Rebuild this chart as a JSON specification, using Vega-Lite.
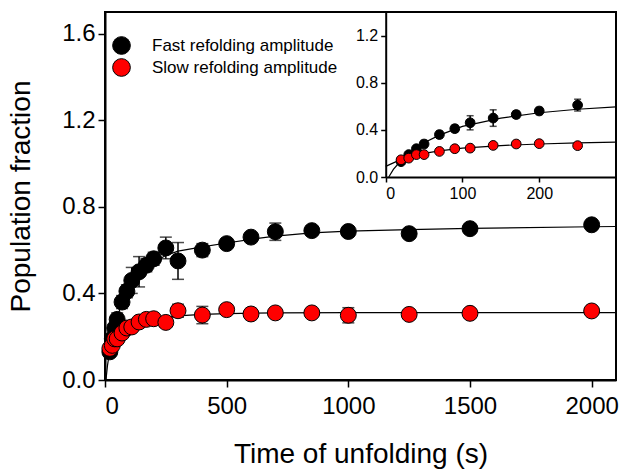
{
  "$schema": "https://vega.github.io/schema/vega-lite/v6.json",
  "width": 511,
  "height": 368,
  "autosize": "none",
  "padding": {"left": 105, "top": 12, "right": 4, "bottom": 92},
  "background": "white",
  "config": {
    "font": "Liberation Sans",
    "view": {"stroke": "black", "strokeWidth": 2},
    "axis": {"domainColor": "black", "domainWidth": 2, "tickColor": "black", "tickWidth": 1.5, "labelColor": "black", "titleColor": "black", "grid": false, "labelFont": "Liberation Sans", "titleFont": "Liberation Sans", "titleFontWeight": "normal"}
  },
  "datasets": {
    "pts": [
      {"series": "Fast refolding amplitude", "t": 20, "y": 0.13, "lo": 0.11, "hi": 0.15},
      {"series": "Fast refolding amplitude", "t": 30, "y": 0.19, "lo": 0.17, "hi": 0.21},
      {"series": "Fast refolding amplitude", "t": 40, "y": 0.24, "lo": 0.22, "hi": 0.26},
      {"series": "Fast refolding amplitude", "t": 50, "y": 0.28, "lo": 0.25, "hi": 0.31},
      {"series": "Fast refolding amplitude", "t": 70, "y": 0.36, "lo": 0.33, "hi": 0.39},
      {"series": "Fast refolding amplitude", "t": 90, "y": 0.41, "lo": 0.38, "hi": 0.44},
      {"series": "Fast refolding amplitude", "t": 110, "y": 0.46, "lo": 0.40, "hi": 0.52},
      {"series": "Fast refolding amplitude", "t": 140, "y": 0.50, "lo": 0.43, "hi": 0.57},
      {"series": "Fast refolding amplitude", "t": 170, "y": 0.53, "lo": 0.50, "hi": 0.56},
      {"series": "Fast refolding amplitude", "t": 200, "y": 0.56, "lo": 0.53, "hi": 0.59},
      {"series": "Fast refolding amplitude", "t": 250, "y": 0.61, "lo": 0.56, "hi": 0.66},
      {"series": "Fast refolding amplitude", "t": 300, "y": 0.55, "lo": 0.465, "hi": 0.635},
      {"series": "Fast refolding amplitude", "t": 400, "y": 0.60, "lo": 0.57, "hi": 0.63},
      {"series": "Fast refolding amplitude", "t": 500, "y": 0.63, "lo": 0.61, "hi": 0.65},
      {"series": "Fast refolding amplitude", "t": 600, "y": 0.66, "lo": 0.64, "hi": 0.68},
      {"series": "Fast refolding amplitude", "t": 700, "y": 0.685, "lo": 0.645, "hi": 0.725},
      {"series": "Fast refolding amplitude", "t": 850, "y": 0.69, "lo": 0.67, "hi": 0.71},
      {"series": "Fast refolding amplitude", "t": 1000, "y": 0.686, "lo": 0.666, "hi": 0.706},
      {"series": "Fast refolding amplitude", "t": 1250, "y": 0.676, "lo": 0.656, "hi": 0.696},
      {"series": "Fast refolding amplitude", "t": 1500, "y": 0.699, "lo": 0.679, "hi": 0.719},
      {"series": "Fast refolding amplitude", "t": 2000, "y": 0.717, "lo": 0.697, "hi": 0.737},
      {"series": "Slow refolding amplitude", "t": 20, "y": 0.146, "lo": 0.136, "hi": 0.156},
      {"series": "Slow refolding amplitude", "t": 30, "y": 0.16, "lo": 0.15, "hi": 0.17},
      {"series": "Slow refolding amplitude", "t": 40, "y": 0.19, "lo": 0.18, "hi": 0.2},
      {"series": "Slow refolding amplitude", "t": 50, "y": 0.19, "lo": 0.18, "hi": 0.2},
      {"series": "Slow refolding amplitude", "t": 70, "y": 0.217, "lo": 0.207, "hi": 0.227},
      {"series": "Slow refolding amplitude", "t": 90, "y": 0.24, "lo": 0.23, "hi": 0.25},
      {"series": "Slow refolding amplitude", "t": 110, "y": 0.245, "lo": 0.235, "hi": 0.255},
      {"series": "Slow refolding amplitude", "t": 140, "y": 0.268, "lo": 0.253, "hi": 0.283},
      {"series": "Slow refolding amplitude", "t": 170, "y": 0.28, "lo": 0.27, "hi": 0.29},
      {"series": "Slow refolding amplitude", "t": 200, "y": 0.283, "lo": 0.273, "hi": 0.293},
      {"series": "Slow refolding amplitude", "t": 250, "y": 0.266, "lo": 0.246, "hi": 0.286},
      {"series": "Slow refolding amplitude", "t": 300, "y": 0.32, "lo": 0.29, "hi": 0.35},
      {"series": "Slow refolding amplitude", "t": 400, "y": 0.30, "lo": 0.26, "hi": 0.34},
      {"series": "Slow refolding amplitude", "t": 500, "y": 0.325, "lo": 0.305, "hi": 0.345},
      {"series": "Slow refolding amplitude", "t": 600, "y": 0.305, "lo": 0.28, "hi": 0.33},
      {"series": "Slow refolding amplitude", "t": 700, "y": 0.31, "lo": 0.295, "hi": 0.325},
      {"series": "Slow refolding amplitude", "t": 850, "y": 0.31, "lo": 0.295, "hi": 0.325},
      {"series": "Slow refolding amplitude", "t": 1000, "y": 0.299, "lo": 0.264, "hi": 0.334},
      {"series": "Slow refolding amplitude", "t": 1250, "y": 0.303, "lo": 0.288, "hi": 0.318},
      {"series": "Slow refolding amplitude", "t": 1500, "y": 0.308, "lo": 0.288, "hi": 0.328},
      {"series": "Slow refolding amplitude", "t": 2000, "y": 0.319, "lo": 0.304, "hi": 0.334}
    ],
    "fit": [
      {"series": "Fast", "t": 4, "y": 0.0},
      {"series": "Fast", "t": 10, "y": 0.065},
      {"series": "Fast", "t": 20, "y": 0.14},
      {"series": "Fast", "t": 30, "y": 0.2},
      {"series": "Fast", "t": 50, "y": 0.29},
      {"series": "Fast", "t": 70, "y": 0.355},
      {"series": "Fast", "t": 100, "y": 0.43},
      {"series": "Fast", "t": 150, "y": 0.5},
      {"series": "Fast", "t": 200, "y": 0.545},
      {"series": "Fast", "t": 250, "y": 0.575},
      {"series": "Fast", "t": 300, "y": 0.595},
      {"series": "Fast", "t": 400, "y": 0.615},
      {"series": "Fast", "t": 500, "y": 0.633},
      {"series": "Fast", "t": 600, "y": 0.65},
      {"series": "Fast", "t": 700, "y": 0.665},
      {"series": "Fast", "t": 850, "y": 0.68},
      {"series": "Fast", "t": 1000, "y": 0.688},
      {"series": "Fast", "t": 1250, "y": 0.695},
      {"series": "Fast", "t": 1500, "y": 0.7},
      {"series": "Fast", "t": 2000, "y": 0.708},
      {"series": "Fast", "t": 2100, "y": 0.709},
      {"series": "Slow", "t": 0, "y": 0.09},
      {"series": "Slow", "t": 10, "y": 0.12},
      {"series": "Slow", "t": 20, "y": 0.148},
      {"series": "Slow", "t": 30, "y": 0.17},
      {"series": "Slow", "t": 50, "y": 0.2},
      {"series": "Slow", "t": 70, "y": 0.222},
      {"series": "Slow", "t": 100, "y": 0.245},
      {"series": "Slow", "t": 150, "y": 0.267},
      {"series": "Slow", "t": 200, "y": 0.28},
      {"series": "Slow", "t": 250, "y": 0.29},
      {"series": "Slow", "t": 300, "y": 0.296},
      {"series": "Slow", "t": 400, "y": 0.303},
      {"series": "Slow", "t": 500, "y": 0.307},
      {"series": "Slow", "t": 700, "y": 0.31},
      {"series": "Slow", "t": 1000, "y": 0.311},
      {"series": "Slow", "t": 2100, "y": 0.311}
    ]
  },
  "layer": [
    {
      "layer": [
        {
          "data": {"name": "fit"},
          "mark": {"type": "line", "color": "black", "strokeWidth": 1.2},
          "encoding": {
            "x": {"field": "t", "type": "quantitative", "scale": {"domain": [0, 2100], "nice": false, "zero": false}, "axis": {"orient": "bottom", "values": [0, 500, 1000, 1500, 2000], "format": "d", "title": "Time of unfolding (s)", "labelFontSize": 24, "titleFontSize": 28, "tickSize": 7, "labelPadding": 7, "titlePadding": 22}},
            "y": {"field": "y", "type": "quantitative", "scale": {"domain": [0, 1.7], "nice": false}, "axis": {"orient": "left", "values": [0, 0.4, 0.8, 1.2, 1.6], "format": ".1f", "title": "Population fraction", "labelFontSize": 24, "titleFontSize": 28, "tickSize": 7, "labelPadding": 3, "titlePadding": 26}},
            "detail": {"field": "series", "type": "nominal"}
          }
        },
        {
          "data": {"name": "pts"},
          "mark": {"type": "errorbar", "ticks": {"size": 12}, "thickness": 1.5, "color": "black"},
          "encoding": {
            "x": {"field": "t", "type": "quantitative", "scale": {"domain": [0, 2100], "nice": false, "zero": false}, "axis": {"orient": "bottom", "values": [0, 500, 1000, 1500, 2000], "format": "d", "title": "Time of unfolding (s)", "labelFontSize": 24, "titleFontSize": 28, "tickSize": 7, "labelPadding": 7, "titlePadding": 22}},
            "y": {"field": "lo", "type": "quantitative", "scale": {"domain": [0, 1.7], "nice": false}, "axis": {"orient": "left", "values": [0, 0.4, 0.8, 1.2, 1.6], "format": ".1f", "title": "Population fraction", "labelFontSize": 24, "titleFontSize": 28, "tickSize": 7, "labelPadding": 3, "titlePadding": 26}},
            "y2": {"field": "hi"}
          }
        },
        {
          "data": {"name": "pts"},
          "mark": {"type": "point", "shape": "circle", "filled": true, "size": 254, "stroke": "black", "strokeWidth": 1, "opacity": 1},
          "encoding": {
            "x": {"field": "t", "type": "quantitative", "scale": {"domain": [0, 2100], "nice": false, "zero": false}, "axis": {"orient": "bottom", "values": [0, 500, 1000, 1500, 2000], "format": "d", "title": "Time of unfolding (s)", "labelFontSize": 24, "titleFontSize": 28, "tickSize": 7, "labelPadding": 7, "titlePadding": 22}},
            "y": {"field": "y", "type": "quantitative", "scale": {"domain": [0, 1.7], "nice": false}, "axis": {"orient": "left", "values": [0, 0.4, 0.8, 1.2, 1.6], "format": ".1f", "title": "Population fraction", "labelFontSize": 24, "titleFontSize": 28, "tickSize": 7, "labelPadding": 3, "titlePadding": 26}},
            "fill": {"field": "series", "type": "nominal", "scale": {"domain": ["Fast refolding amplitude", "Slow refolding amplitude"], "range": ["#000000", "#ff0000"]}, "legend": {"title": null, "orient": "none", "legendX": 7, "legendY": 24, "symbolType": "circle", "symbolSize": 314, "symbolStrokeColor": "black", "symbolStrokeWidth": 1, "symbolOpacity": 1, "labelFontSize": 17, "labelFont": "Liberation Sans", "labelColor": "black", "labelOffset": 21, "labelLimit": 0, "rowPadding": -1, "padding": 0}}
          }
        }
      ]
    },
    {
      "layer": [
        {
          "data": {"name": "fit"},
          "transform": [{"filter": "datum.t <= 300"}],
          "mark": {"type": "line", "color": "black", "strokeWidth": 1.2},
          "encoding": {
            "x": {"field": "t", "type": "quantitative", "scale": {"domain": [0, 300], "range": [280.7, 511], "nice": false, "zero": false}, "axis": {"orient": "bottom", "offset": -203, "values": [0, 100, 200], "title": null, "labelFontSize": 16, "tickSize": 5, "labelPadding": 3}},
            "y": {"field": "y", "type": "quantitative", "scale": {"domain": [0, 1.4], "range": [165, 0], "nice": false}, "axis": {"orient": "left", "offset": -280.7, "values": [0, 0.4, 0.8, 1.2], "format": ".1f", "title": null, "labelFontSize": 16, "tickSize": 5, "labelPadding": 3}},
            "detail": {"field": "series", "type": "nominal"}
          }
        },
        {
          "data": {"name": "pts"},
          "transform": [{"filter": "datum.t <= 260"}],
          "mark": {"type": "errorbar", "ticks": {"size": 7}, "thickness": 1.5, "color": "black"},
          "encoding": {
            "x": {"field": "t", "type": "quantitative", "scale": {"domain": [0, 300], "range": [280.7, 511], "nice": false, "zero": false}, "axis": {"orient": "bottom", "offset": -203, "values": [0, 100, 200], "title": null, "labelFontSize": 16, "tickSize": 5, "labelPadding": 3}},
            "y": {"field": "lo", "type": "quantitative", "scale": {"domain": [0, 1.4], "range": [165, 0], "nice": false}, "axis": {"orient": "left", "offset": -280.7, "values": [0, 0.4, 0.8, 1.2], "format": ".1f", "title": null, "labelFontSize": 16, "tickSize": 5, "labelPadding": 3}},
            "y2": {"field": "hi"}
          }
        },
        {
          "data": {"name": "pts"},
          "transform": [{"filter": "datum.t <= 260"}],
          "mark": {"type": "point", "shape": "circle", "filled": true, "size": 95, "stroke": "black", "strokeWidth": 1, "opacity": 1},
          "encoding": {
            "x": {"field": "t", "type": "quantitative", "scale": {"domain": [0, 300], "range": [280.7, 511], "nice": false, "zero": false}, "axis": {"orient": "bottom", "offset": -203, "values": [0, 100, 200], "title": null, "labelFontSize": 16, "tickSize": 5, "labelPadding": 3}},
            "y": {"field": "y", "type": "quantitative", "scale": {"domain": [0, 1.4], "range": [165, 0], "nice": false}, "axis": {"orient": "left", "offset": -280.7, "values": [0, 0.4, 0.8, 1.2], "format": ".1f", "title": null, "labelFontSize": 16, "tickSize": 5, "labelPadding": 3}},
            "fill": {"field": "series", "type": "nominal", "scale": {"domain": ["Fast refolding amplitude", "Slow refolding amplitude"], "range": ["#000000", "#ff0000"]}, "legend": {"title": null, "orient": "none", "legendX": 7, "legendY": 24, "symbolType": "circle", "symbolSize": 314, "symbolStrokeColor": "black", "symbolStrokeWidth": 1, "symbolOpacity": 1, "labelFontSize": 17, "labelFont": "Liberation Sans", "labelColor": "black", "labelOffset": 21, "labelLimit": 0, "rowPadding": -1, "padding": 0}}
          }
        }
      ]
    }
  ],
  "resolve": {"scale": {"x": "independent", "y": "independent"}, "axis": {"x": "independent", "y": "independent"}}
}
